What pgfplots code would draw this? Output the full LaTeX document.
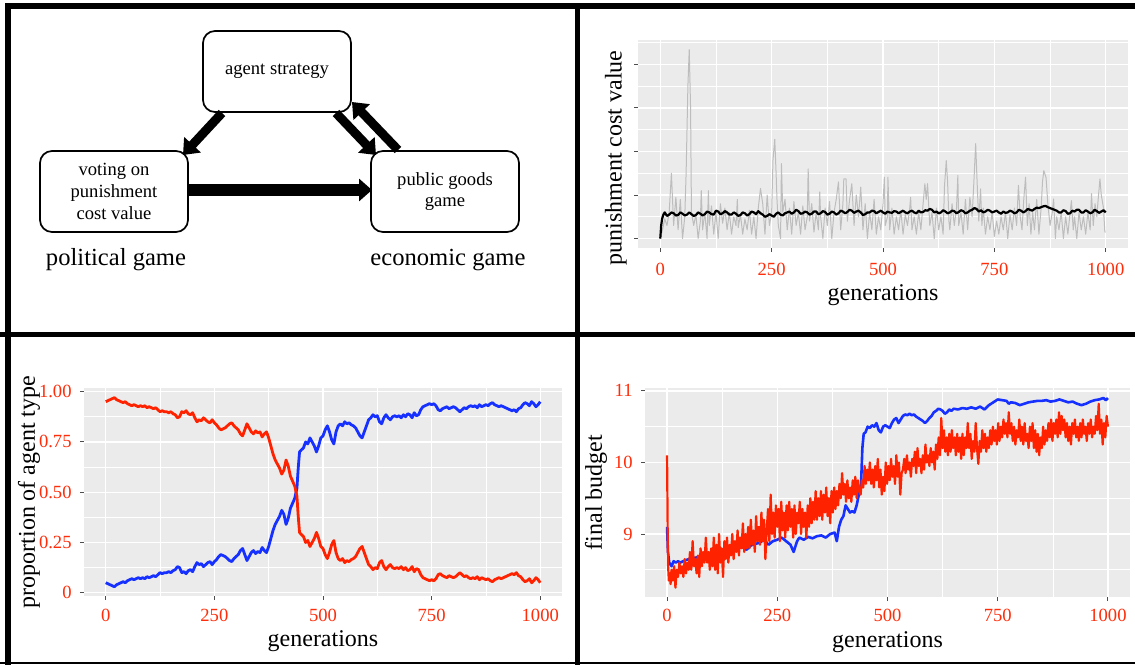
\documentclass[border=0pt]{standalone}
\usepackage{pgfplots}
\pgfplotsset{compat=1.18}
\usepackage{pgfplotstable}
\usepackage{fontspec}
\setmainfont{Liberation Serif}
\usetikzlibrary{arrows.meta}
\definecolor{ggbg}{HTML}{EBEBEB}
\definecolor{ggred}{HTML}{FF2D0A}
\definecolor{lred}{HTML}{FF2200}
\definecolor{lblue}{HTML}{1530FF}
\definecolor{lgray}{HTML}{BDBDBD}
\definecolor{tickc}{HTML}{4D4D4D}

\pgfplotstableread{
x b r
0 .050 .950
5 .045 .955
10 .040 .960
15 .035 .965
20 .030 .970
25 .040 .960
30 .045 .955
35 .050 .950
40 .055 .945
45 .050 .950
50 .060 .940
55 .065 .935
60 .070 .930
65 .065 .935
70 .070 .930
75 .075 .925
80 .070 .930
85 .075 .925
90 .070 .930
95 .080 .920
100 .075 .925
105 .080 .920
110 .085 .915
115 .080 .920
120 .090 .910
125 .100 .900
130 .095 .905
135 .100 .900
140 .100 .900
145 .105 .895
150 .100 .900
155 .110 .890
160 .115 .885
165 .130 .870
170 .125 .875
175 .100 .900
180 .105 .895
185 .095 .905
190 .110 .890
195 .115 .885
200 .105 .895
205 .130 .870
210 .150 .850
215 .140 .860
220 .145 .855
225 .130 .870
230 .140 .860
235 .150 .850
240 .155 .845
245 .140 .860
250 .155 .845
255 .165 .835
260 .180 .820
265 .190 .810
270 .185 .815
275 .180 .820
280 .170 .830
285 .160 .840
290 .155 .845
295 .170 .830
300 .180 .820
305 .190 .810
310 .210 .790
315 .220 .780
320 .190 .810
325 .160 .840
330 .180 .820
335 .200 .800
340 .210 .790
345 .195 .805
350 .205 .795
355 .200 .800
360 .225 .775
365 .210 .790
370 .200 .800
375 .230 .770
380 .270 .730
385 .310 .690
390 .340 .660
395 .360 .640
400 .380 .620
405 .410 .590
410 .390 .610
415 .340 .660
420 .370 .630
425 .420 .580
430 .445 .555
435 .470 .530
440 .520 .480
443 .620 .380
446 .700 .300
450 .710 .290
455 .720 .280
460 .750 .250
465 .740 .260
470 .770 .230
475 .750 .250
480 .730 .270
485 .700 .300
490 .730 .270
495 .770 .230
500 .780 .220
505 .810 .190
510 .830 .170
515 .800 .200
520 .760 .240
525 .740 .260
530 .800 .200
535 .830 .170
540 .840 .160
545 .830 .170
550 .850 .150
555 .840 .160
560 .845 .155
565 .835 .165
570 .830 .170
575 .820 .180
580 .800 .200
585 .780 .220
590 .770 .230
595 .800 .200
600 .830 .170
605 .860 .140
610 .870 .130
615 .885 .115
620 .875 .125
625 .880 .120
630 .850 .150
635 .840 .160
640 .870 .130
645 .885 .115
650 .870 .130
655 .860 .140
660 .875 .125
665 .880 .120
670 .875 .125
675 .880 .120
680 .870 .130
685 .885 .115
690 .875 .125
695 .890 .110
700 .885 .115
705 .870 .130
710 .895 .105
715 .880 .120
720 .885 .115
725 .910 .090
730 .925 .075
735 .930 .070
740 .935 .065
745 .940 .060
750 .935 .065
755 .940 .060
760 .930 .070
765 .910 .090
770 .905 .095
775 .915 .085
780 .920 .080
785 .925 .075
790 .915 .085
795 .920 .080
800 .925 .075
805 .920 .080
810 .910 .090
815 .900 .100
820 .910 .090
825 .920 .080
830 .915 .085
835 .925 .075
840 .930 .070
845 .925 .075
850 .930 .070
855 .920 .080
860 .935 .065
865 .925 .075
870 .930 .070
875 .935 .065
880 .930 .070
885 .940 .060
890 .945 .055
895 .935 .065
900 .930 .070
905 .925 .075
910 .930 .070
915 .925 .075
920 .920 .080
925 .915 .085
930 .910 .090
935 .905 .095
940 .910 .090
945 .900 .100
950 .915 .085
955 .920 .080
960 .935 .065
965 .945 .055
970 .940 .060
975 .930 .070
980 .950 .050
985 .940 .060
990 .925 .075
995 .935 .065
1000 .950 .050
}\proptable

\pgfplotsset{gg/.style={
  scale only axis,
  axis background/.style={fill=ggbg},
  axis line style={draw=none},
  xmin=-50, xmax=1050,
  xtick={0,250,500,750,1000}, xticklabels={0,250,500,750,1000},
  minor xtick={125,375,625,875},
  grid=both,
  major grid style={white, line width=0.65pt},
  minor grid style={white, line width=0.35pt},
  tick align=outside, tickpos=left,
  major tick length=2pt, minor tick length=0pt,
  tick style={tickc, line width=0.5pt},
  /pgf/number format/assume math mode=true,
  ticklabel style={font=\fontsize{9.3}{11}\selectfont, text=ggred},
  yticklabel style={anchor=east, inner sep=0pt, xshift=-4pt},
  label style={font=\fontsize{12}{14}\selectfont},
}}

\begin{document}
\begin{tikzpicture}
\useasboundingbox (0pt,0pt) rectangle (567.5pt,332pt);

% ---------- frames ----------
\draw[line width=3pt] (4pt,-2pt) -- (4pt,328.75pt) -- (570pt,328.75pt);
\draw[line width=2.5pt] (288.75pt,-2pt) -- (288.75pt,330pt);
\draw[line width=2.5pt] (0pt,164.5pt) -- (570pt,164.5pt);
\draw[line width=1.4pt] (0pt,0.5pt) -- (570pt,0.5pt);

% ---------- diagram ----------
\begin{scope}[every node/.style={draw, line width=0.85pt, rounded corners=6pt,
   minimum width=74pt, minimum height=40.5pt, inner sep=0pt, align=center,
   font=\fontsize{9.3}{10.9}\selectfont}]
\node at (138.5pt,296.25pt) {agent strategy};
\node at (57pt,236.25pt) {voting on\\punishment\\cost value};
\node at (222.5pt,236.25pt) {public goods\\game};
\end{scope}
\node[font=\fontsize{12.3}{14}\selectfont] at (58pt,202pt) {political game};
\node[font=\fontsize{12.3}{14}\selectfont] at (224pt,202pt) {economic game};
\draw[line width=4.5pt, -{Triangle[length=7pt,width=11pt]}] (111pt,275.5pt) -- (91.5pt,254.5pt);
\draw[line width=4.5pt, -{Triangle[length=7pt,width=11pt]}] (168pt,275.5pt) -- (188pt,254.5pt);
\draw[line width=4.5pt, -{Triangle[length=7pt,width=11pt]}] (199pt,257pt) -- (176pt,281pt);
\draw[line width=5.8pt, -{Triangle[length=6.5pt,width=11pt]}] (94.5pt,237pt) -- (186pt,237pt);

% ---------- top right ----------
\begin{axis}[gg, at={(319pt,208pt)}, anchor=south west,
  width=245pt, height=104pt,
  ymin=-0.217, ymax=4.56,
  ytick={0,1,2,3,4}, yticklabels={},
  minor ytick={0.5,1.5,2.5,3.5,4.5},
  xticklabel style={anchor=center, yshift=-8.5pt},
  xlabel={generations}, ylabel={punishment cost value},
  xlabel style={at={(axis description cs:0.5,-0.226)}, anchor=center},
  ylabel style={at={(axis description cs:-0.045,0.433)}, anchor=center},
]
\addplot[lgray, line width=0.5pt, line join=round] coordinates {
(0,0) (5,0.2) (10,0.45) (15,0.3) (20,0.6) (25,1.5) (30,0.3) (35,0.95) (40,0.2) (45,0.9)
(50,0.0) (55,0.5) (58,1.5) (62,3.5) (65,4.34) (68,3.0) (70,0.6) (75,0.3) (80,0.55) (85,0.0)
(90,0.4) (92,1.1) (95,0.2) (100,0.6) (105,0.0) (108,1.1) (110,0.3) (115,0.75) (120,0.1) (125,0.6)
(130,0.0) (135,0.8) (140,0.35) (145,0.7) (150,0.2) (155,0.6) (160,0.1) (165,0.5) (170,0.3) (173,0.9)
(175,0.25) (180,0.55) (185,0.1) (190,0.45) (195,0.2) (200,0.65) (205,0.1) (210,0.5) (215,0.0) (220,0.7)
(225,1.15) (230,0.8) (235,0.1) (240,1.0) (245,0.3) (250,0.6) (253,1.8) (257,2.28) (260,1.5) (262,0.9)
(265,0.3) (270,0.0) (272,1.72) (275,0.6) (280,0.9) (285,0.2) (290,0.7) (295,0.1) (300,0.85) (305,0.3)
(310,0.6) (315,0.1) (320,0.75) (325,0.2) (330,0.5) (332,1.6) (335,0.4) (340,0.8) (345,0.15) (350,0.6)
(355,0.2) (358,1.07) (360,0.5) (365,0.0) (370,0.7) (375,0.3) (380,0.85) (385,0.0) (390,0.6) (395,0.9)
(400,1.3) (405,0.2) (410,0.8) (412,1.37) (417,1.37) (420,0.4) (425,0.9) (430,1.26) (435,0.3) (440,1.0)
(445,0.5) (450,1.18) (455,0.2) (460,0.8) (465,0.0) (470,0.6) (475,0.2) (480,0.9) (485,0.1) (490,0.5)
(495,0.2) (500,0.8) (503,1.41) (505,0.3) (510,0.5) (511,1.41) (515,0.2) (520,0.7) (525,0.1) (530,0.5)
(535,0.2) (540,0.65) (545,0.1) (550,0.55) (555,0.3) (560,0.7) (562,0.95) (565,0.2) (570,0.5) (575,0.1)
(580,0.6) (585,0.2) (590,0.8) (594,1.26) (597,0.9) (600,1.26) (605,0.3) (610,0.6) (615,0.0) (620,0.7)
(625,0.2) (630,0.5) (635,0.1) (638,1.2) (642,1.79) (645,1.3) (648,0.4) (650,0.2) (655,0.8) (660,0.3)
(665,0.7) (668,1.45) (670,0.3) (675,0.6) (680,0.1) (685,0.9) (690,0.2) (695,0.95) (700,0.5) (704,1.3)
(708,2.18) (712,1.1) (715,0.4) (719,1.14) (722,0.3) (725,0.7) (730,0.1) (735,0.5) (740,0.2) (745,0.6)
(750,0.05) (755,0.4) (760,0.1) (765,0.5) (770,0.2) (775,0.6) (780,0.0) (785,0.55) (790,0.2) (795,0.7)
(800,0.3) (804,1.22) (808,0.5) (812,0.2) (816,0.9) (820,1.41) (824,0.3) (828,0.8) (832,0.1) (836,0.6)
(840,0.2) (845,0.9) (850,0.1) (855,0.7) (858,1.3) (861,1.56) (866,1.4) (870,0.8) (875,0.3) (880,0.6)
(883,0.91) (887,0.0) (890,0.5) (895,0.2) (900,0.6) (905,0.0) (910,0.5) (915,0.1) (920,0.6) (923,0.87)
(927,0.2) (930,0.5) (935,0.0) (940,0.6) (945,0.2) (950,0.5) (955,0.1) (960,0.6) (965,0.2) (968,1.03)
(972,0.3) (976,0.8) (980,0.5) (983,0.9) (987,1.37) (990,1.0) (995,0.7) (998,0.15) (1000,0.15)
};
\addplot[black, line width=1.1pt, line join=round] coordinates {
(0,0) (2,0.3) (4,0.45) (6,0.52) (8,0.57) (10,0.6) (15,0.52) (20,0.55) (25,0.6) (30,0.58) (35,0.53) (40,0.54) (45,0.6) (50,0.57)
(55,0.53) (60,0.55) (65,0.6) (70,0.56) (75,0.52) (80,0.54) (85,0.6) (90,0.57) (95,0.53) (100,0.56) (105,0.62) (110,0.6) (115,0.56) (120,0.55) (125,0.64) (130,0.62) (135,0.56) (140,0.58) (145,0.63) (150,0.6)
(155,0.55) (160,0.55) (165,0.6) (170,0.57) (175,0.52) (180,0.54) (185,0.6) (190,0.58) (195,0.53) (200,0.56) (205,0.62) (210,0.6) (215,0.56) (220,0.63) (225,0.58) (230,0.55) (235,0.5) (240,0.52) (245,0.56) (250,0.53)
(255,0.5) (260,0.57) (265,0.6) (270,0.55) (275,0.53) (280,0.58) (285,0.6) (290,0.62) (295,0.57) (300,0.6) (305,0.66) (310,0.63) (315,0.57) (320,0.58) (325,0.62) (330,0.6) (335,0.55) (340,0.57) (345,0.62) (350,0.62)
(355,0.56) (360,0.58) (365,0.63) (370,0.61) (375,0.55) (380,0.57) (385,0.62) (390,0.6) (395,0.55) (400,0.58) (405,0.64) (410,0.62) (415,0.58) (420,0.61) (425,0.66) (430,0.64) (435,0.59) (440,0.62) (445,0.64) (450,0.6)
(455,0.54) (460,0.56) (465,0.6) (470,0.6) (475,0.64) (480,0.63) (485,0.58) (490,0.61) (495,0.64) (500,0.6) (505,0.57) (510,0.62) (515,0.6) (520,0.59) (525,0.63) (530,0.62) (535,0.58) (540,0.61) (545,0.64) (550,0.6)
(555,0.58) (560,0.62) (565,0.64) (570,0.6) (575,0.58) (580,0.64) (585,0.6) (590,0.61) (595,0.65) (600,0.64) (605,0.68) (610,0.66) (615,0.6) (620,0.62) (625,0.58) (630,0.6) (635,0.65) (640,0.62) (645,0.58) (650,0.6)
(655,0.64) (660,0.63) (665,0.58) (670,0.61) (675,0.65) (680,0.63) (685,0.58) (690,0.6) (695,0.64) (700,0.66) (705,0.7) (710,0.68) (715,0.62) (720,0.65) (725,0.6) (730,0.62) (735,0.66) (740,0.64) (745,0.6) (750,0.62)
(755,0.64) (760,0.6) (765,0.57) (770,0.62) (775,0.59) (780,0.6) (785,0.64) (790,0.62) (795,0.58) (800,0.6) (805,0.66) (810,0.64) (815,0.6) (820,0.63) (825,0.68) (830,0.66) (835,0.64) (840,0.68) (845,0.71) (850,0.7)
(855,0.72) (860,0.74) (865,0.75) (870,0.72) (875,0.7) (880,0.68) (885,0.66) (890,0.64) (895,0.6) (900,0.6) (905,0.65) (910,0.63) (915,0.57) (920,0.58) (925,0.64) (930,0.62) (935,0.66) (940,0.66) (945,0.6) (950,0.6)
(955,0.65) (960,0.62) (965,0.58) (970,0.6) (975,0.66) (980,0.63) (985,0.59) (990,0.62) (995,0.65) (1000,0.6)
};
\end{axis}

% ---------- bottom left ----------
\begin{axis}[gg, at={(42pt,34pt)}, anchor=south west,
  width=239pt, height=104pt,
  ymin=-0.016, ymax=1.018,
  ytick={0,0.25,0.5,0.75,1}, yticklabels={0,0.25,0.50,0.75,1.00},
  minor ytick={0.125,0.375,0.625,0.875},
  xticklabel style={anchor=center, yshift=-7.5pt},
  xlabel={generations}, ylabel={proportion of agent type},
  xlabel style={at={(axis description cs:0.5,-0.216)}, anchor=center},
  ylabel style={at={(axis description cs:-0.115,0.5)}, anchor=center},
]
\addplot[lblue, line width=1.4pt, line join=round] table[x=x, y=b] {\proptable};
\addplot[lred, line width=1.4pt, line join=round] table[x=x, y=r] {\proptable};
\end{axis}

% ---------- bottom right ----------
\begin{axis}[gg, at={(322.5pt,33.5pt)}, anchor=south west,
  width=242.5pt, height=104.5pt,
  ymin=8.12, ymax=11.04,
  ytick={9,10,11}, yticklabels={9,10,11},
  minor ytick={8.5,9.5,10.5},
  xticklabel style={anchor=center, yshift=-7pt},
  xlabel={generations}, ylabel={final budget},
  xlabel style={at={(axis description cs:0.5,-0.215)}, anchor=center},
  ylabel style={at={(axis description cs:-0.101,0.5)}, anchor=center},
]
\addplot[lblue, line width=1.3pt, line join=round] coordinates {
(0,9.1) (2,8.75) (5,8.6) (10,8.55) (15,8.62) (20,8.6) (25,8.62) (30,8.6) (40,8.63) (50,8.65)
(60,8.66) (70,8.68) (80,8.7) (90,8.68) (100,8.7) (110,8.72) (120,8.74) (130,8.75) (140,8.78) (150,8.76)
(160,8.8) (170,8.82) (180,8.78) (190,8.84) (200,8.86) (210,8.88) (220,8.92) (230,8.85) (240,8.9) (250,8.92)
(260,8.95) (270,8.9) (280,8.85) (287,8.75) (295,8.9) (300,8.95) (310,8.92) (320,8.96) (330,8.94) (340,8.97)
(350,8.98) (360,8.95) (370,9.0) (380,9.02) (385,8.9) (390,9.1) (395,9.2) (400,9.25) (405,9.4) (410,9.35)
(415,9.3) (420,9.32) (425,9.3) (430,9.4) (435,9.55) (440,9.7) (443,10.2) (446,10.4) (450,10.42) (455,10.5)
(460,10.48) (465,10.52) (470,10.5) (475,10.55) (480,10.45) (485,10.42) (490,10.5) (495,10.52) (500,10.5) (505,10.48)
(510,10.55) (515,10.6) (520,10.62) (525,10.55) (530,10.6) (535,10.65) (540,10.67) (545,10.66) (550,10.68) (555,10.66)
(560,10.67) (565,10.64) (570,10.62) (575,10.6) (580,10.58) (585,10.55) (590,10.58) (595,10.62) (600,10.65) (605,10.7)
(610,10.72) (615,10.75) (620,10.74) (625,10.72) (630,10.68) (635,10.7) (640,10.74) (645,10.72) (650,10.75) (660,10.74)
(670,10.76) (680,10.75) (690,10.77) (700,10.75) (710,10.78) (720,10.74) (730,10.8) (740,10.84) (750,10.88) (760,10.87)
(770,10.86) (775,10.82) (780,10.84) (790,10.83) (800,10.8) (810,10.82) (820,10.84) (830,10.85) (840,10.86) (850,10.86)
(860,10.87) (870,10.85) (880,10.86) (890,10.88) (900,10.86) (910,10.84) (920,10.85) (930,10.82) (940,10.8) (950,10.82)
(960,10.85) (970,10.87) (980,10.88) (990,10.9) (995,10.87) (1000,10.9)
};
\addplot[lred, line width=1.1pt, line join=round] coordinates {
(0,10.1) (2,8.6) (4,8.35) (6,8.45) (8,8.3) (10,8.5) (13,8.35) (16,8.55) (19,8.25) (22,8.5)
(25,8.4) (28,8.6) (31,8.45) (34,8.55) (37,8.4) (40,8.65) (43,8.45) (46,8.6) (49,8.5) (52,8.75)
(55,8.5) (58,8.9) (61,8.55) (64,8.65) (67,8.45) (70,8.7) (73,8.4) (76,8.8) (79,8.55) (82,8.75)
(85,8.6) (88,8.95) (91,8.6) (94,8.75) (97,8.5) (100,8.8) (103,8.55) (106,8.95) (109,8.5) (112,8.85)
(115,8.45) (118,9.0) (121,8.6) (124,8.8) (127,8.4) (130,8.9) (133,8.65) (136,8.95) (139,8.6) (142,8.85)
(145,8.7) (148,9.0) (151,8.65) (154,8.9) (157,8.75) (160,9.05) (163,8.7) (166,8.95) (169,8.8) (172,9.15)
(175,8.75) (178,9.0) (181,8.8) (184,9.1) (187,8.8) (190,9.2) (193,8.85) (196,9.05) (199,8.75) (202,9.25)
(205,8.9) (208,9.1) (211,8.85) (214,9.3) (217,8.9) (220,9.2) (223,8.65) (226,9.05) (229,9.35) (232,8.9)
(235,9.55) (238,9.0) (241,9.3) (244,8.95) (247,9.4) (250,9.1) (253,9.35) (256,8.9) (259,9.45) (262,9.05)
(265,9.3) (268,8.95) (271,9.4) (274,9.05) (277,9.45) (280,9.1) (283,9.35) (286,8.95) (289,9.4) (292,9.0)
(295,9.3) (298,9.15) (301,9.45) (304,9.0) (307,9.35) (310,9.1) (313,9.3) (316,8.95) (319,9.4) (322,9.1)
(325,9.5) (328,9.15) (331,9.45) (334,9.2) (337,9.6) (340,9.2) (343,9.5) (346,9.25) (349,9.6) (352,9.2)
(355,9.55) (358,9.3) (361,9.65) (364,9.25) (367,9.5) (370,9.15) (373,9.6) (376,9.3) (379,9.65) (382,9.35)
(385,9.6) (388,9.4) (391,9.7) (394,9.5) (397,9.85) (400,9.55) (403,9.7) (406,9.45) (409,9.75) (412,9.5)
(415,9.65) (418,9.45) (421,9.75) (424,9.55) (427,9.8) (430,9.5) (433,9.75) (436,9.6) (439,9.55) (442,9.75)
(445,9.65) (448,9.95) (451,9.7) (454,9.9) (457,9.75) (460,10.0) (463,9.7) (466,9.9) (469,9.65) (472,9.95)
(475,9.75) (478,10.05) (481,9.65) (484,9.9) (487,9.55) (490,9.8) (493,9.6) (496,10.0) (499,9.7) (502,9.95)
(505,9.75) (508,10.05) (511,9.8) (514,9.95) (517,9.7) (520,10.1) (523,9.8) (526,10.0) (529,9.55) (532,9.85)
(535,9.9) (538,10.05) (541,9.85) (544,10.1) (547,9.9) (550,10.0) (553,9.8) (556,10.05) (559,9.95) (562,10.15)
(565,9.85) (568,10.2) (571,9.95) (574,10.05) (577,9.85) (580,10.1) (583,9.9) (586,10.25) (589,10.0) (592,10.1)
(595,9.95) (598,10.2) (601,10.0) (604,10.15) (607,9.9) (610,10.25) (613,10.05) (616,10.35) (619,10.1) (622,10.62)
(625,10.2) (628,10.45) (631,10.15) (634,10.35) (637,10.1) (640,10.4) (643,10.15) (646,10.45) (649,10.2) (652,10.35)
(655,10.1) (658,10.4) (661,10.15) (664,10.35) (667,10.05) (670,10.4) (673,10.1) (676,10.35) (679,10.2) (682,10.55)
(685,10.2) (688,10.4) (691,10.05) (694,10.3) (697,10.15) (700,10.55) (703,10.2) (706,9.98) (709,10.3) (712,10.15)
(715,10.45) (718,10.2) (721,10.4) (724,10.15) (727,10.35) (730,10.2) (733,10.45) (736,10.25) (739,10.5) (742,10.3)
(745,10.45) (748,10.25) (751,10.55) (754,10.3) (757,10.5) (760,10.35) (763,10.6) (766,10.4) (769,10.55) (772,10.35)
(775,10.7) (778,10.4) (781,10.55) (784,10.3) (787,10.5) (790,10.25) (793,10.45) (796,10.35) (799,10.6) (802,10.3)
(805,10.5) (808,10.25) (811,10.55) (814,10.3) (817,10.4) (820,10.2) (823,10.5) (826,10.3) (829,10.55) (832,10.2)
(835,10.45) (838,10.15) (841,10.4) (844,10.1) (847,10.35) (850,10.2) (853,10.5) (856,10.25) (859,10.45) (862,10.3)
(865,10.55) (868,10.35) (871,10.6) (874,10.3) (877,10.55) (880,10.4) (883,10.6) (886,10.35) (889,10.7) (892,10.4)
(895,10.65) (898,10.45) (901,10.6) (904,10.35) (907,10.55) (910,10.3) (913,10.5) (916,10.25) (919,10.55) (922,10.4)
(925,10.6) (928,10.35) (931,10.5) (934,10.3) (937,10.55) (940,10.35) (943,10.6) (946,10.4) (949,10.5) (952,10.3)
(955,10.55) (958,10.4) (961,10.6) (964,10.35) (967,10.5) (970,10.4) (973,10.65) (976,10.45) (979,10.82) (982,10.4)
(985,10.6) (988,10.25) (991,10.55) (994,10.35) (997,10.65) (1000,10.5)
};
\end{axis}
\end{tikzpicture}
\end{document}
